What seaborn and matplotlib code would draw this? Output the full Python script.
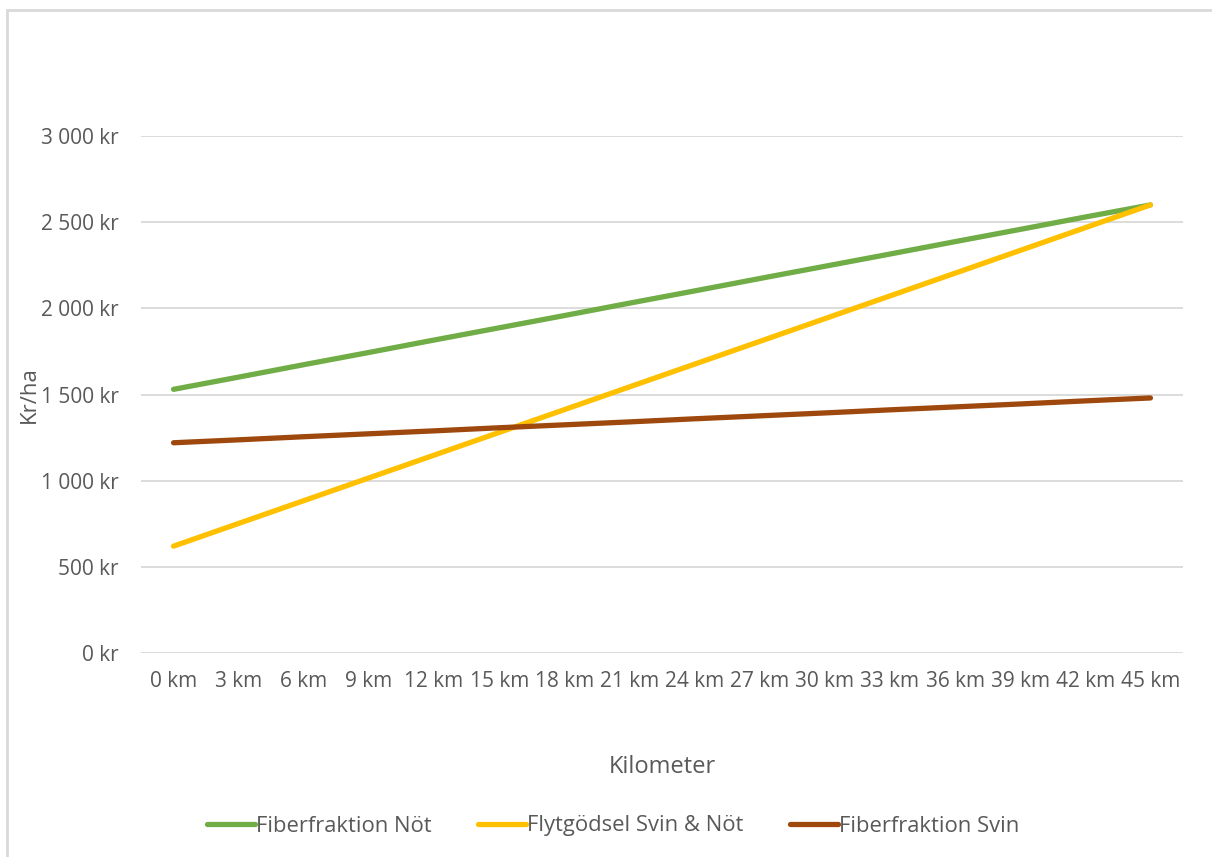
import pandas as pd
import matplotlib.pyplot as plt
import seaborn as sns
from matplotlib.patches import Rectangle

km_labels = ['0 km', '3 km', '6 km', '9 km', '12 km', '15 km', '18 km', '21 km',
             '24 km', '27 km', '30 km', '33 km', '36 km', '39 km', '42 km', '45 km']
fiber_not = [1530, 1601, 1673, 1744, 1816, 1887, 1958, 2030,
             2101, 2173, 2244, 2315, 2387, 2458, 2530, 2600]
flyt_svin_not = [620, 752, 884, 1016, 1148, 1280, 1412, 1544,
                 1676, 1808, 1940, 2072, 2204, 2336, 2468, 2600]
fiber_svin = [1220, 1237, 1255, 1272, 1289, 1307, 1324, 1341,
              1359, 1376, 1393, 1411, 1428, 1445, 1463, 1480]

series_names = ['Fiberfraktion Nöt', 'Flytgödsel Svin & Nöt', 'Fiberfraktion Svin']
colors = ['#70ad47', '#ffc000', '#9e480e']

df = pd.DataFrame({
    'idx': list(range(len(km_labels))) * 3,
    'value': fiber_not + flyt_svin_not + fiber_svin,
    'serie': [s for s in series_names for _ in km_labels],
})

sns.set_style('white')
plt.rcParams['font.family'] = ['Open Sans', 'DejaVu Sans']
text_color = '#595959'

fig = plt.figure(figsize=(12.12, 8.57), dpi=100)
# light chart-area border (Excel style)
fig.patches.append(Rectangle((7 / 1212, -0.1), 1.2, 1.1 - 10 / 857, transform=fig.transFigure,
                             fill=False, edgecolor='#d9d9d9', linewidth=2.0, zorder=0))
ax = fig.add_axes([141 / 1212, 1 - 653 / 857, (1183 - 141) / 1212, (653 - 136) / 857])

sns.lineplot(data=df, x='idx', y='value', hue='serie', hue_order=series_names,
             palette=colors, linewidth=3.8, ax=ax, legend=False,
             solid_capstyle='round', zorder=3)

ax.set_xlim(-0.5, len(km_labels) - 0.5)
ax.set_ylim(0, 3000)
ax.set_xticks(range(len(km_labels)))
ax.set_xticklabels(km_labels)
ax.set_yticks(range(0, 3001, 500))
ax.set_yticklabels([f'{v:,}'.replace(',', ' ') + ' kr' for v in range(0, 3001, 500)])
ax.grid(axis='y', color='#d9d9d9', linewidth=1.3)
ax.grid(axis='x', visible=False)
for s in ax.spines.values():
    s.set_visible(False)
ax.tick_params(axis='x', length=0, pad=13, labelsize=15, labelcolor=text_color)
ax.tick_params(axis='y', length=0, pad=16, labelsize=15, labelcolor=text_color)

ax.set_xlabel('Kilometer', fontsize=17, color=text_color, labelpad=45)
ax.set_ylabel('Kr/ha', fontsize=16, color=text_color)
ax.yaxis.set_label_coords(-0.097, 0.5)

handles = [plt.Line2D([], [], color=c, linewidth=3.8, solid_capstyle='round') for c in colors]
fig.legend(handles, series_names, loc='center', bbox_to_anchor=(613 / 1212, 1 - 826 / 857),
           ncol=3, frameon=False, fontsize=15.8, handlelength=2.2, handletextpad=0.05,
           columnspacing=2.1, labelcolor=text_color)

fig.savefig('out.png', dpi=100)
